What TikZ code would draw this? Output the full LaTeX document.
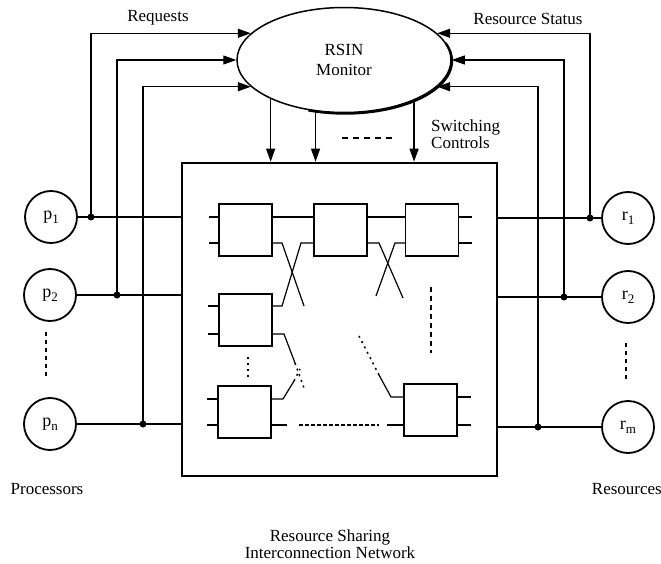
\documentclass[tikz,border=0pt]{standalone}
\usepackage{fontspec}
\setmainfont{Liberation Serif}
\usetikzlibrary{shapes.geometric,arrows.meta,calc}
\newcommand\mysub[1]{\raisebox{-0.45ex}{\fontsize{13}{13}\selectfont #1}}
\begin{document}
\begin{tikzpicture}[x=1pt,y=-1pt,
  font=\fontsize{17}{17}\selectfont,
  thinline/.style={line width=1.2pt},
  arr/.style={thinline,-{Triangle[length=13pt,width=9pt]}},
  proc/.style={circle,draw,line width=1.8pt,minimum size=52pt,inner sep=0pt,font=\fontsize{18}{18}\selectfont},
  sw/.style={draw,line width=1.3pt,minimum width=53pt,minimum height=52pt,inner sep=0pt},
  jdot/.style={circle,fill,inner sep=0pt,minimum size=7pt},
  sparse/.style={line width=1.5pt,dash pattern=on 2pt off 4pt},
  vdots/.style={line width=2.6pt,dash pattern=on 4pt off 4pt},
  wire/.style={line width=1.2pt}
]
\useasboundingbox (0,0) rectangle (661,564);

% monitor
\node[ellipse,draw,line width=1.5pt,minimum width=214pt,minimum height=105pt,
      align=center,inner sep=0pt] (mon) at (344,60) {RSIN\\[3pt]Monitor};
\draw[line width=2.4pt] ($(mon.center)+(1,1)$) ++(-20:107 and 52.5)
   arc[start angle=-20,end angle=110,x radius=107,y radius=52.5];

% network box
\node[draw,line width=2.6pt,minimum width=315pt,minimum height=313pt,inner sep=0pt] (net) at (339.5,319.5) {};

% processors and resources
\node[proc] (p1) at (51,217) {p\mysub{1}};
\node[proc] (p2) at (50,295) {p\mysub{2}};
\node[proc] (pn) at (50,424) {p\mysub{n}};
\node[proc] (r1) at (628,218) {r\mysub{1}};
\node[proc] (r2) at (628,297) {r\mysub{2}};
\node[proc] (rm) at (628,427) {r\mysub{m}};

\draw[vdots] (46,332) -- (46,378);
\draw[vdots] (626,343) -- (626,382);

% junctions
\coordinate (jp1) at (91,217);
\coordinate (jp2) at (117,295);
\coordinate (jpn) at (143,424);
\coordinate (jr1) at (590,218);
\coordinate (jr2) at (564,297);
\coordinate (jrm) at (538,427);

\draw[wire] (p1) -- (p1 -| net.west);
\draw[wire] (p2) -- (p2 -| net.west);
\draw[wire] (pn) -- (pn -| net.west);
\draw[wire] (r1) -- (r1 -| net.east);
\draw[wire] (r2) -- (r2 -| net.east);
\draw[wire] (rm) -- (rm -| net.east);

\draw[arr] (jp1) |- (mon.164);
\draw[arr] (jp2) |- (mon.180);
\draw[arr] (jpn) |- (mon.196);
\draw[arr] (jr1) |- (mon.16);
\draw[arr] (jr2) |- (mon.east);
\draw[arr] (jrm) |- (mon.344);

\foreach \j in {jp1,jp2,jpn,jr1,jr2,jrm} \node[jdot] at (\j) {};

% switching controls
\draw[arr] (mon.208) -- (mon.208 |- net.north);
\draw[arr] (mon.241) -- (mon.241 |- net.north);
\draw[arr] (mon.330) -- (mon.330 |- net.north);
\draw[line width=1.3pt,dash pattern=on 6pt off 5pt] (342,138) -- (394,138);

% labels
\node (lreq) at (158,18) {Requests};
\node (lrs) at (528,19) {Resource Status};
\node[anchor=west,align=left,inner sep=0pt] (lsc) at (431,134) {Switching\\Controls};
\node (lproc) at (47,489) {Processors};
\node[anchor=east,inner sep=0pt] (lres) at (662,489) {Resources};
\node[align=center,font=\fontsize{17}{15}\selectfont,inner sep=0pt] (lrsin) at (330,544) {Resource Sharing\\Interconnection Network};

% switches
\node[sw] (A) at (245.5,230) {};
\node[sw] (B) at (340.5,230) {};
\node[sw] (C) at (432,230) {};
\node[sw] (D) at (245.5,320) {};
\node[sw] (E) at (244.5,412) {};
\node[sw] (F) at (430.5,410) {};

% left stubs
\draw[wire] (209,217) -- (219,217) (209,243) -- (219,243);
\draw[wire] (208,306) -- (219,306) (208,334) -- (219,334);
\draw[wire] (207,399) -- (218,399) (207,425) -- (218,425);
% top row links
\draw[wire] (272,217) -- (314,217);
\draw[wire] (367,217) -- (406,217);
\draw[wire] (272,243) -- (282,243) -- (304,306);
\draw[wire] (272,306) -- (282,306) -- (301,243) -- (314,243);
\draw[wire] (367,243) -- (379,243) -- (403,298);
\draw[wire] (376,296) -- (395,243) -- (406,243);
\draw[wire] (458,217) -- (472,217) (458,243) -- (472,243);
\draw[line width=1.5pt,dash pattern=on 5pt off 4pt] (431,287) -- (431,353);
% middle
\draw[sparse] (248,357) -- (248,378);
\draw[wire] (272,334) -- (284,334) -- (295,363);
\draw[sparse] (295,363) -- (304,388);
\draw[wire] (271,399) -- (283,399) -- (294,381);
\draw[sparse] (294,381) -- (300,369);
% bottom row
\draw[wire] (271,425) -- (287,425);
\draw[wire,dash pattern=on 4pt off 2pt] (299,425) -- (379,425);
\draw[wire] (387,425) -- (404,425);
\draw[wire] (404,397) -- (391,397) -- (379,375);
\draw[sparse] (379,375) -- (359,336);
\draw[wire] (457,397) -- (471,397) (457,425) -- (471,425);
\end{tikzpicture}
\end{document}
